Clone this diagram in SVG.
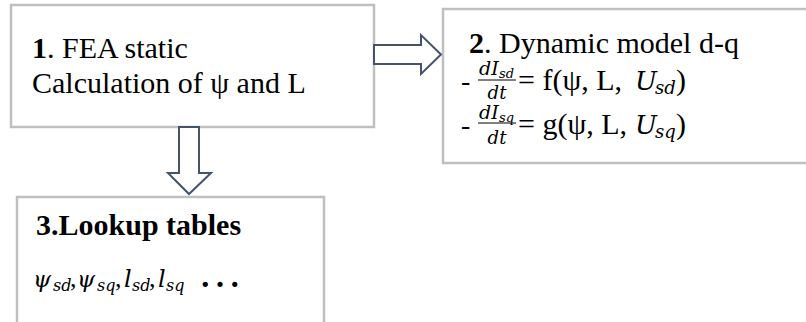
<svg xmlns="http://www.w3.org/2000/svg" width="806" height="322" viewBox="0 0 806 322">
<style>
.box{fill:#ffffff;stroke:#bfbfbf;stroke-width:2.5}
.arr{fill:#ffffff;stroke:#44546a;stroke-width:2;stroke-linejoin:miter}
.t{font-family:"Liberation Serif","Times New Roman",serif;font-size:30px;fill:#000}
.b{font-weight:bold}
.m{font-family:"DejaVu Serif","Liberation Serif",serif;font-style:italic;fill:#000}
.bar{stroke:#000;stroke-width:1}
</style>
<rect width="806" height="322" fill="#ffffff"/>
<g id="node1">
<rect class="box" x="11" y="5" width="363" height="122"/>
<text class="t" x="32" y="58"><tspan class="b">1</tspan>. FEA static</text>
<text class="t" x="32" y="93">Calculation of ψ and L</text>
</g>
<g id="node2">
<rect class="box" x="443" y="9" width="380" height="154"/>
<text class="t" x="469" y="53"><tspan class="b">2</tspan>. Dynamic model d-q</text>
<text class="t" x="461" y="90" style="font-size:28px">-</text>
<text class="m" x="479" y="75" font-size="19">dI</text>
<text class="m" x="499" y="78" font-size="13">sd</text>
<line class="bar" x1="478" y1="80" x2="516" y2="80"/>
<text class="m" x="497" y="99" font-size="18" text-anchor="middle">dt</text>
<text class="t" x="518" y="90">= f(ψ, L, </text>
<text class="m" x="635" y="90" font-size="26">U</text>
<text class="m" x="655" y="94" font-size="18">sd</text>
<text class="t" x="676" y="90">)</text>
<text class="t" x="461" y="134" style="font-size:28px">-</text>
<text class="m" x="479" y="119" font-size="19">dI</text>
<text class="m" x="499" y="122" font-size="13">sq</text>
<line class="bar" x1="478" y1="123" x2="516" y2="123"/>
<text class="m" x="497" y="144" font-size="18" text-anchor="middle">dt</text>
<text class="t" x="518" y="134">= g(ψ, L, </text>
<text class="m" x="635" y="134" font-size="26">U</text>
<text class="m" x="655" y="138" font-size="18">sq</text>
<text class="t" x="676" y="134">)</text>
</g>
<g id="node3">
<rect class="box" x="17" y="197" width="307" height="140"/>
<text class="t b" x="36" y="235">3.Lookup tables</text>
<text class="m" x="33" y="287" font-size="23">ψ</text>
<text class="m" x="53" y="291" font-size="16">sd</text>
<text class="t" x="70" y="287" style="font-size:26px">,</text>
<text class="m" x="77" y="287" font-size="23">ψ</text>
<text class="m" x="97" y="291" font-size="16">sq</text>
<text class="t" x="115" y="287" style="font-size:26px">,</text>
<text class="m" x="124" y="287" font-size="24">l</text>
<text class="m" x="132" y="291" font-size="16">sd</text>
<text class="t" x="149" y="287" style="font-size:26px">,</text>
<text class="m" x="158" y="287" font-size="24">l</text>
<text class="m" x="166" y="291" font-size="16">sq</text>
<text class="t" x="198" y="287" style="font-size:44px">…</text>
</g>
<g id="connectors">
<polygon class="arr" points="374,45 421,45 421,35 441,54.5 421,74 421,64 374,64"/>
<polygon class="arr" points="179,127 199,127 199,173 211,173 189,194 168,173 179,173"/>
</g>
</svg>
